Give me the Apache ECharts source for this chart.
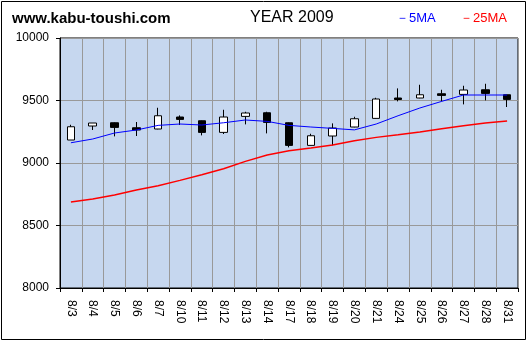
<!DOCTYPE html>
<html>
<head>
<meta charset="utf-8">
<script src="https://cdn.jsdelivr.net/npm/echarts@6/dist/echarts.min.js"></script>
<style>
html,body{margin:0;padding:0;background:#fff;}
#chart{width:530px;height:341px;}
</style>
</head>
<body>
<div id="chart"></div>
<script>
var categories = ['8/3','8/4','8/5','8/6','8/7','8/10','8/11','8/12','8/13','8/14','8/17','8/18','8/19','8/20','8/21','8/24','8/25','8/26','8/27','8/28','8/31'];
var openValues  = [9184, 9296, 9322, 9282, 9272, 9368, 9338, 9245, 9373, 9402, 9322, 9141, 9216, 9288, 9357, 9520, 9520, 9554, 9549, 9586, 9546];
var closeValues = [9290, 9320, 9285, 9264, 9378, 9349, 9245, 9368, 9400, 9325, 9141, 9218, 9280, 9354, 9512, 9508, 9546, 9541, 9584, 9557, 9509];
var lowValues   = [9184, 9264, 9213, 9216, 9270, 9304, 9221, 9232, 9309, 9237, 9125, 9140, 9141, 9286, 9355, 9493, 9518, 9493, 9469, 9501, 9448];
var highValues  = [9306, 9320, 9325, 9328, 9442, 9381, 9340, 9426, 9410, 9410, 9325, 9234, 9317, 9370, 9522, 9597, 9626, 9586, 9618, 9634, 9548];
var ma5Values   = [9162, 9192, 9240, 9264, 9301, 9312, 9304, 9322, 9344, 9333, 9301, 9288, 9277, 9265, 9312, 9378, 9440, 9493, 9544, 9544, 9544];
var ma25Values  = [8688, 8712, 8744, 8784, 8818, 8861, 8906, 8954, 9013, 9064, 9098, 9120, 9144, 9178, 9205, 9226, 9248, 9274, 9298, 9320, 9336];
var yTicks = [8000, 8500, 9000, 9500, 10000];

var candleData = categories.map(function(c, i){
  return [openValues[i], closeValues[i], lowValues[i], highValues[i]];
});

var FONT = 'Liberation Sans, Arial, sans-serif';
var chart = echarts.init(document.getElementById('chart'), null, {renderer:'canvas'});
chart.setOption({
  animation: false,
  backgroundColor: '#ffffff',
  grid: {left: 60, top: 38, right: 12, bottom: 53, show: true, backgroundColor: '#c6d7ef', borderColor: '#000', borderWidth: 1},
  xAxis: {
    type: 'category',
    data: categories,
    boundaryGap: true,
    axisLine: {show: true, lineStyle: {color: '#000', width: 1}},
    axisTick: {show: true, length: 4, lineStyle: {color: '#000'}},
    splitLine: {show: true, lineStyle: {color: '#999999', width: 1}},
    axisLabel: {rotate: -90, color: '#000', fontSize: 12, fontFamily: FONT, margin: 12, interval: 0, padding: [5, 0, 0, 0]}
  },
  yAxis: {
    type: 'value',
    min: yTicks[0],
    max: yTicks[yTicks.length - 1],
    interval: 500,
    axisLine: {show: true, lineStyle: {color: '#000', width: 1}},
    axisTick: {show: true, length: 4, lineStyle: {color: '#000'}},
    splitLine: {show: true, lineStyle: {color: '#999999', width: 1}},
    axisLabel: {color: '#000', fontSize: 12, fontFamily: FONT, margin: 11, formatter: function(v){ return String(v); }}
  },
  series: [
    {
      type: 'candlestick',
      data: candleData,
      barWidth: 8,
      itemStyle: {color: '#ffffff', color0: '#000000', borderColor: '#000000', borderColor0: '#000000', borderWidth: 1}
    },
    {
      name: '5MA', type: 'line', data: ma5Values, symbol: 'none',
      lineStyle: {color: '#0000ff', width: 1}, z: 3
    },
    {
      name: '25MA', type: 'line', data: ma25Values, symbol: 'none',
      lineStyle: {color: '#ff0000', width: 1.5}, z: 3
    }
  ],
  graphic: [
    {type: 'rect', shape: {x: 1.5, y: 1.5, width: 524, height: 338}, style: {fill: 'none', stroke: '#000', lineWidth: 1}, silent: true},
    {type: 'text', left: 12, top: 11, style: {text: 'www.kabu-toushi.com', font: 'bold 15px ' + FONT, fill: '#000'}},
    {type: 'text', left: 250, top: 10, style: {text: 'YEAR 2009', font: '16px ' + FONT, fill: '#000'}},
    {type: 'text', left: 396, top: 12, style: {text: '－5MA', font: '13px ' + FONT, fill: '#0000ff'}},
    {type: 'text', left: 460, top: 12, style: {text: '－25MA', font: '13px ' + FONT, fill: '#ff0000'}}
  ]
});
</script>
</body>
</html>
